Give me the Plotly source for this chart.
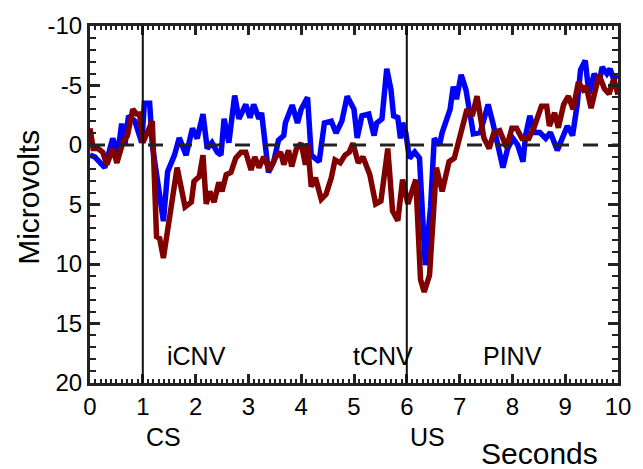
import plotly.graph_objects as go

# Condition 1 (blue) waveform: time in seconds, amplitude in microvolts
blue_t = [0.00, 0.09, 0.28, 0.43, 0.53, 0.60, 0.66, 0.73, 0.85, 0.98, 1.03, 1.13, 1.18, 1.32, 1.39,
          1.47, 1.60, 1.69, 1.82, 1.94, 2.03, 2.14, 2.22, 2.31, 2.41, 2.48, 2.54, 2.63, 2.74, 2.82,
          2.95, 3.03, 3.10, 3.20, 3.25, 3.38, 3.48, 3.57, 3.67, 3.70, 3.83, 3.93, 4.00, 4.12, 4.19,
          4.34, 4.44, 4.57, 4.66, 4.77, 4.87, 5.00, 5.06, 5.15, 5.28, 5.38, 5.43, 5.53, 5.62, 5.70,
          5.75, 5.83, 5.88, 5.92, 5.98, 6.05, 6.15, 6.24, 6.35, 6.45, 6.52, 6.62, 6.67, 6.82, 6.88,
          6.94, 7.03, 7.12, 7.26, 7.39, 7.54, 7.63, 7.73, 7.82, 7.91, 8.01, 8.10, 8.20, 8.25, 8.33,
          8.42, 8.52, 8.63, 8.72, 8.85, 8.95, 9.04, 9.14, 9.23, 9.29, 9.38, 9.45, 9.55, 9.64, 9.70,
          9.79, 9.85, 9.92, 9.98]
blue_uv = [0.85, 1.0, 1.9, -0.55, 0.6, -1.8, 0.0, -2.45, -2.0, -0.2, -3.5, -3.5, 0.0, 4.1, 6.4,
           2.25, 0.85, -0.6, 0.85, -1.4, -0.55, -2.6, 0.3, -0.2, 0.6, 0.85, -2.2, -0.2, -4.15, -2.2,
           -3.4, -2.3, -3.4, -2.2, -2.7, 2.3, 1.4, -0.4, -0.8, -1.85, -3.35, -1.85, -3.0, -4.0, 0.85,
           1.4, -1.85, -2.0, -1.0, -2.0, -4.1, -3.0, -0.6, -2.45, -2.6, -0.8, -1.85, -2.2, -6.4, -4.65,
           -2.45, -2.3, -0.55, -1.85, -1.05, 1.1, 0.6, 1.1, 10.1, 5.2, -0.55, 0.0, -1.05, -3.0, -4.9,
           -3.85, -5.9, -4.65, -0.95, -1.05, -3.4, -1.85, 0.0, 1.9, 0.3, -0.55, 0.0, 1.4, -0.8, -2.45,
           -1.05, -1.05, -0.55, -1.05, 0.45, -0.8, -1.6, -0.8, -3.5, -6.3, -7.1, -4.3, -6.0, -5.15, -6.55,
           -6.0, -6.4, -5.5, -5.9]

# Condition 2 (dark red) waveform
red_t = [0.00, 0.06, 0.15, 0.24, 0.32, 0.43, 0.51, 0.62, 0.71, 0.81, 0.88, 0.94, 1.00, 1.09, 1.18,
         1.26, 1.32, 1.39, 1.48, 1.65, 1.80, 1.92, 1.97, 2.07, 2.14, 2.20, 2.27, 2.35, 2.44, 2.50,
         2.58, 2.67, 2.76, 2.86, 2.95, 3.05, 3.12, 3.20, 3.29, 3.40, 3.52, 3.61, 3.67, 3.76, 3.82,
         3.91, 4.00, 4.08, 4.12, 4.19, 4.27, 4.38, 4.47, 4.57, 4.64, 4.74, 4.83, 4.91, 4.98, 5.08,
         5.17, 5.30, 5.41, 5.51, 5.64, 5.73, 5.83, 5.92, 6.02, 6.17, 6.26, 6.33, 6.43, 6.56, 6.67,
         6.80, 6.90, 7.14, 7.24, 7.33, 7.46, 7.56, 7.65, 7.76, 7.89, 7.99, 8.08, 8.18, 8.31, 8.42,
         8.55, 8.65, 8.70, 8.80, 8.87, 8.97, 9.06, 9.15, 9.25, 9.34, 9.40, 9.49, 9.64, 9.74, 9.83,
         9.92, 10.0]
red_uv = [-1.4, 0.3, 0.3, 0.6, 1.65, 0.3, 1.5, -0.2, -0.8, -3.0, -2.6, -2.6, -0.2, -1.05, -2.0,
          7.7, 7.85, 9.5, 6.6, 1.9, 5.2, 4.8, 3.05, 2.65, 0.85, 4.95, 3.9, 4.8, 3.15, 3.9,
          2.5, 2.3, 1.1, 0.6, 0.6, 2.1, 1.0, 1.9, 1.0, 2.1, 1.0, 0.6, 1.65, 0.45, 1.8,
          0.3, -0.15, 1.65, -0.15, 3.5, 2.75, 4.55, 4.15, 2.75, 1.25, 1.5, 0.85, 0.6, -0.15, 1.5,
          1.0, 2.5, 4.95, 4.7, 0.3, 5.55, 6.35, 2.9, 4.95, 2.9, 11.3, 12.35, 10.95, 1.9, 3.9,
          1.4, 1.1, -3.0, -2.45, -4.1, -0.6, 0.3, -1.05, -1.2, 0.2, -1.4, -1.4, -0.55, -0.55, -1.6,
          -3.25, -3.25, -1.6, -2.7, -1.45, -3.4, -4.1, -3.0, -5.3, -4.65, -4.9, -3.1, -5.9, -4.75, -4.3,
          -5.55, -4.25]

# Axis ticks
x_ticks = [0, 1, 2, 3, 4, 5, 6, 7, 8, 9, 10]
y_ticks = [-10, -5, 0, 5, 10, 15, 20]
y_ticktext = ["-10", "-5", "0", "5", "10", "15", "20"]

# Stimulus onsets (seconds) and their names
event_times = [1, 6]
event_names = ["CS", "US"]
event_label_offset = 0.4

# Component labels placed inside the plot
component_names = ["iCNV", "tCNV", "PINV"]
component_times = [2.01, 5.55, 8.0]
component_level = 17.7

FONT = "Liberation Sans, Arial, sans-serif"

fig = go.Figure()
fig.add_trace(go.Scatter(x=blue_t, y=blue_uv, mode="lines",
                         line=dict(color="#0000ff", width=5.5), showlegend=False))
fig.add_trace(go.Scatter(x=red_t, y=red_uv, mode="lines",
                         line=dict(color="#800000", width=5.5), showlegend=False))

# Baseline at 0 microvolts
fig.add_shape(type="line", xref="paper", x0=0, x1=1, yref="y", y0=0, y1=0,
              line=dict(color="#222222", width=3, dash="15px,14px"), layer="above")

# Vertical markers at stimulus onsets, labelled under the axis
for t, name in zip(event_times, event_names):
    fig.add_shape(type="line", xref="x", x0=t, x1=t, yref="paper", y0=0, y1=1,
                  line=dict(color="#111111", width=2), layer="above")
    fig.add_annotation(x=t + event_label_offset, xref="x", y=-0.150, yref="paper", text=name,
                       xanchor="center", yanchor="middle", showarrow=False,
                       font=dict(family=FONT, size=25, color="black"))

for name, t in zip(component_names, component_times):
    fig.add_annotation(x=t, xref="x", y=component_level, yref="y", text=name,
                       xanchor="center", yanchor="middle", showarrow=False,
                       font=dict(family=FONT, size=25, color="black"))

fig.add_annotation(x=8.52, xref="x", y=-0.197, yref="paper", text="Seconds",
                   xanchor="center", yanchor="middle", showarrow=False,
                   font=dict(family=FONT, size=30, color="black"))
fig.add_annotation(x=-0.1165, xref="paper", y=0.52, yref="paper", text="Microvolts",
                   textangle=-90, xanchor="center", yanchor="middle", showarrow=False,
                   font=dict(family=FONT, size=30, color="black"))

fig.update_xaxes(range=[0, 10], tickvals=x_ticks, ticks="inside", ticklen=9, tickwidth=2.5,
                 tickcolor="#222222", showline=True, linewidth=3, linecolor="#222222",
                 mirror="ticks", showgrid=False, zeroline=False,
                 tickfont=dict(family=FONT, size=24, color="black"),
                 minor=dict(dtick=0.1, ticks="inside", ticklen=4, tickwidth=1.5,
                            tickcolor="#222222", showgrid=False))
fig.update_yaxes(range=[20, -10], tickvals=y_ticks, ticktext=y_ticktext, ticks="inside",
                 ticklen=10, tickwidth=3, tickcolor="#222222", showline=True, linewidth=3,
                 linecolor="#222222", mirror="ticks", showgrid=False, zeroline=False,
                 tickfont=dict(family=FONT, size=24, color="black"),
                 minor=dict(dtick=1, tick0=0, ticks="inside", ticklen=6, tickwidth=2,
                            tickcolor="#222222", showgrid=False))

fig.update_layout(width=643, height=469, margin=dict(l=90, r=21, t=14, b=86),
                  plot_bgcolor="white", paper_bgcolor="white",
                  font=dict(family=FONT, color="black"))

fig.write_html("out.html")
